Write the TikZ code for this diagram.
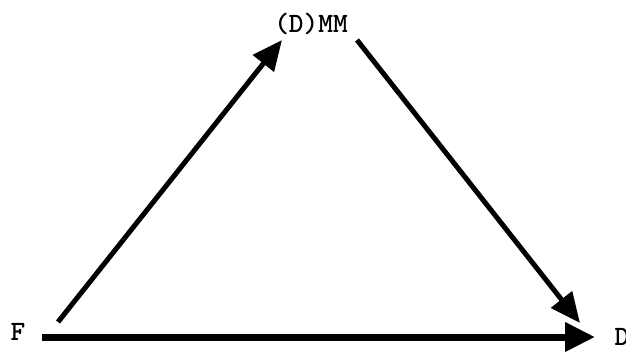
\documentclass[tikz,border=0pt]{standalone}
\usepackage{fontspec}
\newfontfamily\lblfont{lmmonolt10-bold.otf}
\usetikzlibrary{arrows.meta}
\begin{document}
\begin{tikzpicture}[x=1pt,y=1pt,
  lbl/.style={font=\lblfont\fontsize{28}{28}\selectfont, inner sep=0pt},
  arr/.style={line width=5pt, -{Triangle[length=30pt,width=26pt]}},
  arrthick/.style={line width=7pt, -{Triangle[length=30pt,width=28pt]}}]
\useasboundingbox (0,0) rectangle (626,351);
\node[lbl] (F) at (18,19) {F};
\node[lbl] (D) at (622,14) {D};
\node[lbl] (DMM) at (311,327) {(D)MM};
\coordinate (a1s) at (58,29);
\coordinate (a1e) at (282,311);
\coordinate (a2s) at (357,311);
\coordinate (a2e) at (580,28);
\coordinate (a3s) at (42,14);
\coordinate (a3e) at (595,14);
\draw[arr] (a1s) -- (a1e);
\draw[arr] (a2s) -- (a2e);
\draw[arrthick] (a3s) -- (a3e);
\end{tikzpicture}
\end{document}
